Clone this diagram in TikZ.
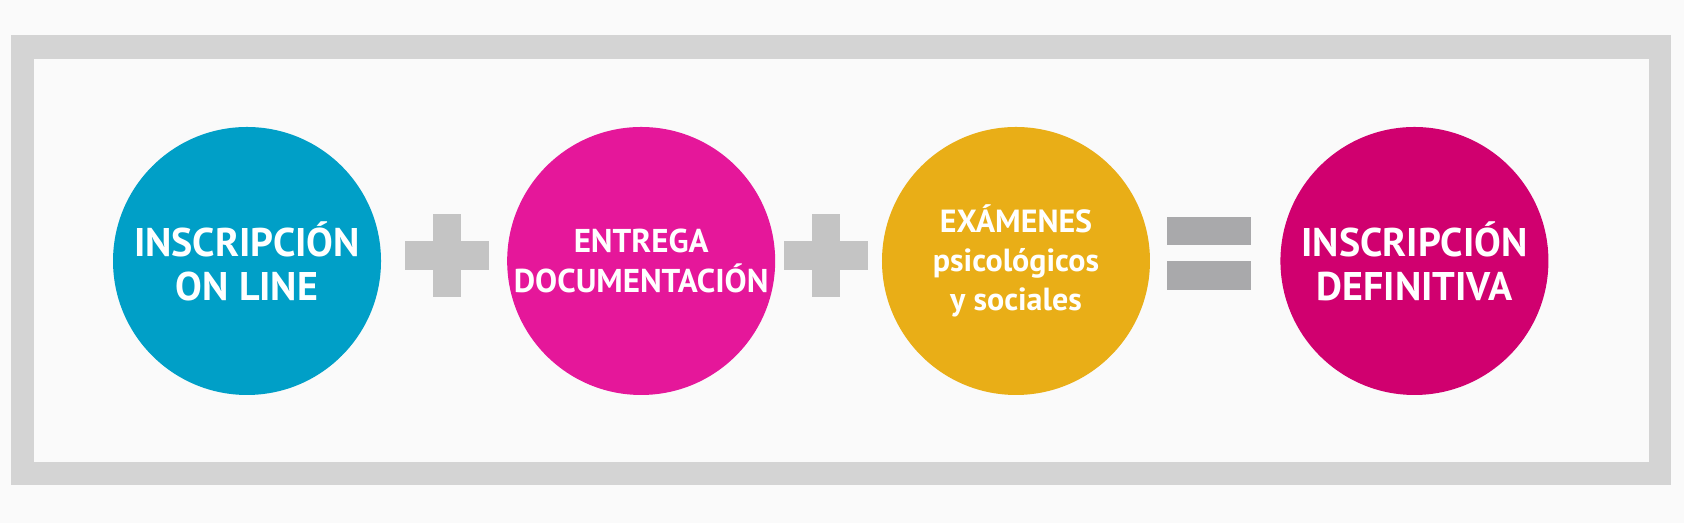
\documentclass[tikz,border=0pt]{standalone}
\usepackage{fontspec}
\setmainfont{PT Sans}
\definecolor{framegray}{HTML}{D4D4D4}
\definecolor{plusgray}{HTML}{C4C4C4}
\definecolor{eqgray}{HTML}{A9A9AB}
\definecolor{cblue}{HTML}{009FC7}
\definecolor{cpink}{HTML}{E5179A}
\definecolor{cyellow}{HTML}{E9AE17}
\definecolor{cmagenta}{HTML}{D0006F}
\begin{document}
\begin{tikzpicture}[x=1.074pt, y=-1.074pt,
stage/.style={circle, minimum size=268pt, inner sep=0pt, text=white, font=\bfseries, align=center},
bar/.style={fill=#1, draw=none}
]
\useasboundingbox[fill=white!98!black] (0,0) rectangle (1568,487);
\fill[framegray] (10,33) rectangle (1556,452);
\fill[white!98!black] (32,55) rectangle (1535,430);
% stages
\node[stage, fill=cblue, font=\bfseries\fontsize{40}{44}\selectfont] (online) at (230,243) {INSCRIPCIÓN\\ON LINE};
\node[stage, fill=cpink, font=\bfseries\fontsize{33}{40}\selectfont] (entrega) at (597,243) {ENTREGA\\DOCUMENTACIÓN};
\node[stage, fill=cyellow, font=\bfseries\fontsize{32}{39}\selectfont] (examenes) at (946,243) {EXÁMENES\\psicológicos\\y sociales};
\node[stage, fill=cmagenta, font=\bfseries\fontsize{40}{44}\selectfont] (definitiva) at (1317,243) {INSCRIPCIÓN\\DEFINITIVA};
% operators
\foreach \cx in {416,769} {
  \fill[plusgray] (\cx-39,224) rectangle (\cx+39,251);
  \fill[plusgray] (\cx-13,199) rectangle (\cx+13,277);
}
\fill[eqgray] (1087,202) rectangle (1165,228);
\fill[eqgray] (1087,243) rectangle (1165,270);
\end{tikzpicture}
\end{document}
